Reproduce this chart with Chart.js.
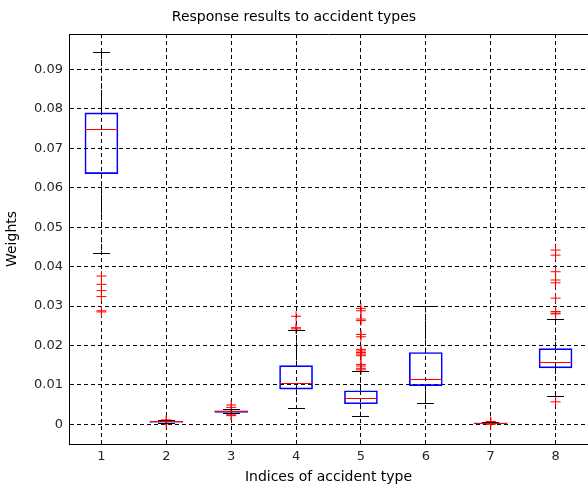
<!DOCTYPE html>
<html>
<head>
<meta charset="utf-8">
<script src="https://cdn.jsdelivr.net/npm/chart.js@4"></script>
<style>
  body { margin: 0; background: #fff; }
  #wrap { width: 588px; height: 488px; }
</style>
</head>
<body>
<div id="wrap"><canvas id="myChart" width="588" height="488"></canvas></div>
<script>
// box statistics per accident type
var categories = ['1', '2', '3', '4', '5', '6', '7', '8'];
var whiskerLow  = [0.0434, 0.0003, 0.0027, 0.0040, 0.0019, 0.0052, 0.0001, 0.0071];
var q1          = [0.0636, 0.0005, 0.0030, 0.0089, 0.0052, 0.0098, 0.0002, 0.0143];
var median      = [0.0749, 0.0006, 0.0032, 0.0104, 0.0065, 0.0113, 0.0003, 0.0157];
var q3          = [0.0790, 0.0007, 0.0034, 0.0149, 0.0085, 0.0182, 0.0004, 0.0192];
var whiskerHigh = [0.0942, 0.0009, 0.0038, 0.0239, 0.0134, 0.0300, 0.0005, 0.0265];
var outliers = [
  [0.0376, 0.0355, 0.0339, 0.0324, 0.0288, 0.0285],
  [0.0010, 0.0011, 0.0002, 0.0001],
  [0.0049, 0.0043, 0.0024, 0.0022],
  [0.0274, 0.0245, 0.0242],
  [0.0294, 0.0288, 0.0267, 0.0263, 0.0228, 0.0222, 0.0190, 0.0186, 0.0182, 0.0178, 0.0174, 0.0152, 0.0148, 0.0142, 0.0138],
  [],
  [0.0006, 0.0007, 0.0000],
  [0.0442, 0.0429, 0.0387, 0.0366, 0.0359, 0.0320, 0.0286, 0.0282, 0.0280, 0.0057]
];
var yTicks = [0, 0.01, 0.02, 0.03, 0.04, 0.05, 0.06, 0.07, 0.08, 0.09];

var boxData = categories.map(function (c, i) { return { x: i + 1, y: [q1[i], q3[i]] }; });
var outlierData = [];
outliers.forEach(function (list, i) {
  list.forEach(function (v) { outlierData.push({ x: i + 1, y: v }); });
});

// same pixel snapping as the grid lines
function snap(p) { return Math.round(p - 0.5) + 0.5; }

// median, whiskers and caps
var boxLines = {
  id: 'boxLines',
  afterDatasetsDraw: function (chart) {
    var ctx = chart.ctx, xs = chart.scales.x, ys = chart.scales.y;
    var area = chart.chartArea;
    ctx.save();
    ctx.lineWidth = 1;
    categories.forEach(function (c, i) {
      var x = snap(xs.getPixelForValue(i + 1));
      var half = 16.5, cap = 8.5;
      // whiskers
      ctx.strokeStyle = '#000';
      ctx.setLineDash([5, 3]);
      ctx.beginPath();
      ctx.moveTo(x, ys.getPixelForValue(q3[i]));
      ctx.lineTo(x, ys.getPixelForValue(whiskerHigh[i]));
      ctx.moveTo(x, ys.getPixelForValue(q1[i]));
      ctx.lineTo(x, ys.getPixelForValue(whiskerLow[i]));
      ctx.stroke();
      ctx.setLineDash([]);
      // caps
      ctx.beginPath();
      var yh = snap(ys.getPixelForValue(whiskerHigh[i]));
      var yl = snap(ys.getPixelForValue(whiskerLow[i]));
      ctx.moveTo(x - cap, yh); ctx.lineTo(x + cap, yh);
      ctx.moveTo(x - cap, yl); ctx.lineTo(x + cap, yl);
      ctx.stroke();
      // median
      ctx.strokeStyle = '#ff0000';
      var ym = snap(ys.getPixelForValue(median[i]));
      ctx.beginPath();
      ctx.moveTo(x - half, ym); ctx.lineTo(x + half, ym);
      ctx.stroke();
    });
    // top frame line
    ctx.strokeStyle = '#000';
    ctx.beginPath();
    ctx.moveTo(area.left, snap(area.top));
    ctx.lineTo(area.right, snap(area.top));
    ctx.stroke();
    ctx.restore();
  }
};

var ctx = document.getElementById('myChart').getContext('2d');
var myChart = new Chart(ctx, {
  type: 'bar',
  data: {
    datasets: [{
      type: 'scatter',
      data: outlierData,
      pointStyle: 'cross',
      pointRadius: 5,
      borderColor: '#ff0000',
      borderWidth: 1,
      clip: false,
      order: 0
    }, {
      type: 'bar',
      data: boxData,
      borderColor: '#0000ff',
      backgroundColor: 'rgba(0,0,0,0)',
      borderWidth: 1,
      borderSkipped: false,
      barThickness: 33,
      order: 1
    }]
  },
  options: {
    responsive: false,
    animation: false,
    layout: { padding: 0, autoPadding: false },
    plugins: {
      legend: { display: false },
      tooltip: { enabled: false },
      title: {
        display: true,
        text: 'Response results to accident types',
        color: '#000',
        font: { family: 'DejaVu Sans', size: 14, weight: 'normal', lineHeight: 1 },
        padding: { top: 10, bottom: 10 }
      }
    },
    scales: {
      x: {
        type: 'linear',
        offset: false,
        min: 0.5,
        max: 8.5,
        afterBuildTicks: function (scale) {
          scale.ticks = categories.map(function (c, i) { return { value: i + 1 }; });
        },
        afterFit: function (scale) { scale.height = 44; },
        ticks: {
          callback: function (v) { return categories[v - 1]; },
          color: '#262626',
          font: { family: 'DejaVu Sans', size: 13 },
          padding: 5,
          maxRotation: 0
        },
        grid: { color: '#000', drawTicks: false, offset: false },
        border: { color: '#000', dash: [4, 3] },
        title: {
          display: true,
          text: 'Indices of accident type',
          color: '#000',
          font: { family: 'DejaVu Sans', size: 14 },
          padding: { top: 0, bottom: 2 }
        }
      },
      y: {
        min: -0.005,
        max: 0.099,
        afterBuildTicks: function (scale) {
          scale.ticks = yTicks.map(function (v) { return { value: v }; });
        },
        afterFit: function (scale) { scale.width = 69; },
        ticks: {
          callback: function (v) { return v === 0 ? '0' : v.toFixed(2); },
          color: '#262626',
          font: { family: 'DejaVu Sans', size: 13 },
          padding: 6
        },
        grid: { color: '#000', drawTicks: false },
        border: { color: '#000', dash: [4, 3] },
        title: {
          display: true,
          text: 'Weights',
          color: '#000',
          font: { family: 'DejaVu Sans', size: 14 },
          padding: { top: 4, bottom: 0 }
        }
      }
    }
  },
  plugins: [boxLines]
});
</script>
</body>
</html>
